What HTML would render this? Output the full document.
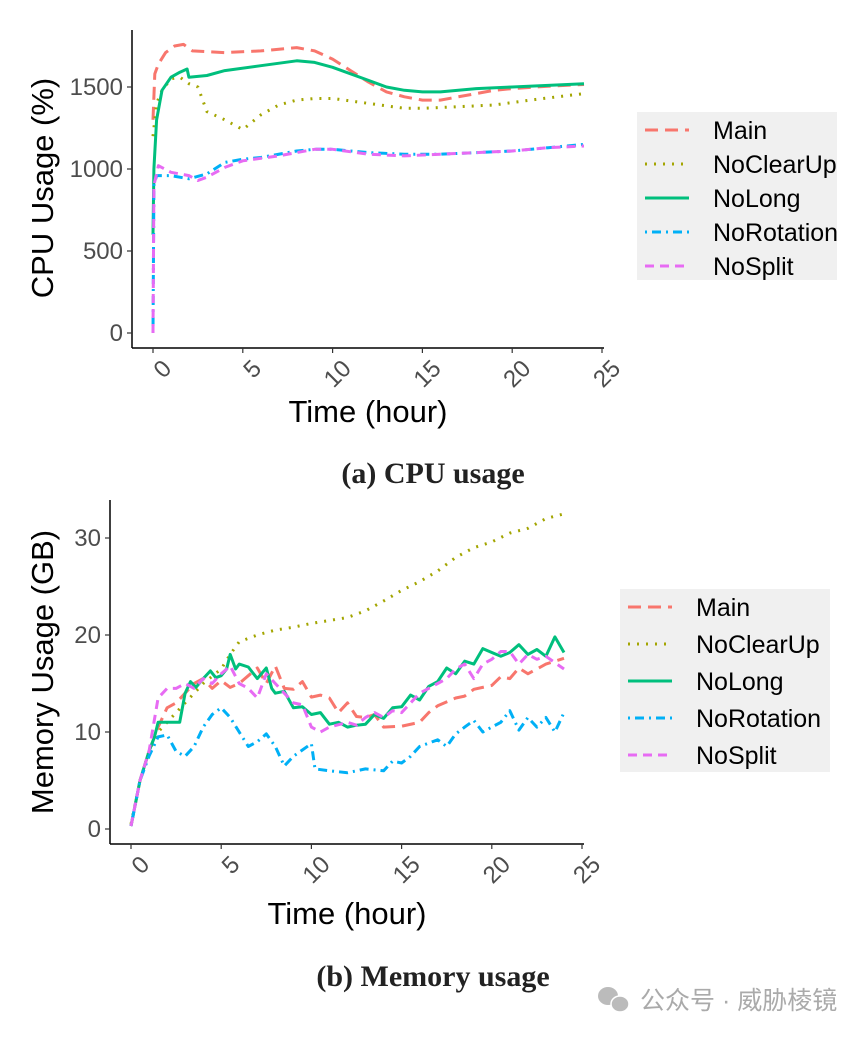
<!DOCTYPE html>
<html><head><meta charset="utf-8"><style>
body{margin:0;background:#fff;width:865px;height:1034px;overflow:hidden;font-family:"Liberation Sans",sans-serif}
svg text{font-family:"Liberation Sans","Noto Sans CJK SC",sans-serif}
</style></head><body>
<svg id="s" width="865" height="1034" xmlns="http://www.w3.org/2000/svg">
<text x="433" y="483" text-anchor="middle" font-weight="bold" font-size="30" fill="#222" style="font-family:'Liberation Serif',serif">(a) CPU usage</text>
<text x="433" y="986" text-anchor="middle" font-weight="bold" font-size="30" fill="#222" style="font-family:'Liberation Serif',serif">(b) Memory usage</text>
<g>
<ellipse cx="608" cy="996" rx="10" ry="9" fill="#bbb"/><ellipse cx="620" cy="1004" rx="9" ry="8" fill="#bbb" stroke="#fff" stroke-width="1.5"/>
<text x="640" y="1009" font-size="25" fill="#aaa">公众号 · 威胁棱镜</text></g>
</svg>
<script>
const seriesNames=["Main","NoClearUp","NoLong","NoRotation","NoSplit"];
const colors=["#F8766D","#A3A500","#00BF7D","#00B0F6","#E76BF3"];
const dashes=["13,7","2,7","","2,5,9,5","9,6"];
const xTicks=[0,5,10,15,20,25];
const cpuTicks=[0,500,1000,1500];
const memTicks=[0,10,20,30];
const cpuMain=[[0,1300],[0.1,1580],[0.3,1640],[0.7,1710],[1.2,1750],[1.7,1760],[2.2,1720],[4,1710],[6,1720],[8,1740],[9,1720],[10,1670],[11,1600],[12,1530],[13,1470],[14,1440],[15,1420],[16,1420],[17,1440],[18,1460],[19,1480],[20,1490],[22,1505],[24,1515]];
const cpuNoClearUp=[[0,1200],[0.2,1400],[0.5,1480],[1,1550],[1.5,1560],[2,1520],[2.5,1500],[3,1350],[4,1300],[5,1240],[6,1330],[7,1390],[8,1420],[9,1430],[10,1430],[12,1400],[14,1370],[15,1370],[17,1380],[19,1390],[21,1420],[24,1460]];
const cpuNoLong=[[0,600],[0.05,1000],[0.2,1300],[0.5,1480],[1,1560],[1.5,1590],[1.9,1610],[2,1560],[3,1570],[4,1600],[6,1630],[8,1660],[9,1650],[10,1620],[12,1540],[13,1500],[14,1480],[15,1470],[16,1470],[18,1490],[20,1500],[22,1510],[24,1520]];
const cpuNoRotation=[[0,0],[0.05,900],[0.2,960],[1,960],[2,940],[3,970],[4,1040],[5,1060],[6,1070],[8,1110],[9,1120],[10,1120],[12,1100],[14,1090],[16,1090],[18,1100],[20,1110],[22,1130],[24,1150]];
const cpuNoSplit=[[0,0],[0.05,900],[0.3,1020],[1,980],[2,960],[2.5,930],[3,950],[4,1010],[5,1050],[7,1080],[9,1120],[10,1120],[12,1090],[14,1080],[16,1090],[18,1100],[20,1110],[22,1130],[24,1140]];
const memMain=[[0,0.3],[0.5,5],[1,8],[1.5,10.5],[2,12.5],[2.5,13],[3,14],[3.5,15],[4,15.5],[4.5,14.5],[5,15.3],[5.5,14.6],[6,15],[6.5,15.8],[7,16.6],[7.5,15],[8,16.8],[8.5,14.5],[9,14.4],[9.5,15.2],[10,13.6],[10.5,13.8],[11,13.5],[11.5,12],[12,13],[12.5,11.6],[13,11.5],[13.5,11.8],[14,10.5],[15,10.6],[16,11],[16.5,12],[17,12.7],[18,13.5],[18.5,13.7],[19,14.4],[20,14.8],[20.5,15.7],[21,15.5],[21.5,16.6],[22,16],[23,17],[24,17.6]];
const memNoClearUp=[[0,0.5],[0.5,5],[1,8],[1.5,10],[2,11],[3,13],[4,15],[5,16.5],[5.5,18],[6,19.3],[7,20],[8,20.5],[9,20.8],[10,21.2],[11,21.5],[12,21.8],[13,22.5],[14,23.5],[15,24.6],[16,25.5],[17,26.6],[18,28],[19,29],[20,29.6],[21,30.5],[22,31],[23,32],[24,32.5]];
const memNoLong=[[0,0.3],[0.5,5],[1,8],[1.3,9.5],[1.5,11],[2.7,11],[3,14],[3.3,15.2],[3.6,14.6],[4,15.5],[4.4,16.3],[4.7,15.6],[5,15.8],[5.3,16.5],[5.5,18],[5.8,16.5],[6,17],[6.5,16.7],[7,15.5],[7.5,16.6],[7.8,14.5],[8,14],[8.5,14.2],[9,12.5],[9.5,12.6],[10,11.8],[10.5,12],[11,10.8],[11.5,11],[12,10.5],[12.5,10.7],[13,10.8],[13.5,11.8],[14,11.4],[14.5,12.5],[15,12.6],[15.5,13.8],[16,13.3],[16.5,14.7],[17,15.2],[17.5,16.6],[18,16],[18.5,17.3],[19,17],[19.5,18.6],[20,18.2],[20.5,17.8],[21,18.2],[21.5,19],[22,18],[22.5,18.5],[23,17.8],[23.5,19.8],[24,18.2]];
const memNoRotation=[[0,0.3],[0.5,5],[1,7.5],[1.5,9.5],[2,9.7],[2.5,8],[3,7.5],[3.5,8.5],[4,10.5],[4.5,11.8],[5,12.5],[5.5,11.5],[6,10],[6.5,8.5],[7,9],[7.5,9.8],[8,8.5],[8.5,6.5],[9,7.5],[10,8.8],[10.2,6.2],[11,6],[12,5.8],[13,6.2],[14,6],[14.5,7],[15,6.8],[15.5,7.5],[16,8.5],[17,9.2],[17.5,8.5],[18,9.8],[18.5,10.5],[19,11.2],[19.5,10],[20,10.5],[20.5,11],[21,12.2],[21.5,10.2],[22,11.5],[22.5,10.5],[23,11.5],[23.5,10],[24,12]];
const memNoSplit=[[0,0.3],[0.5,5],[1,8],[1.5,13.5],[2,14.5],[2.5,14.5],[3,15],[3.5,14.5],[4,15.5],[4.5,15],[5,16],[5.5,16.8],[6,15],[6.5,14.5],[7,13.5],[7.5,16],[8,15],[8.5,14],[9,13],[9.5,12.8],[10,10.5],[10.5,10],[11,10.5],[12,11],[12.5,10.7],[13,11.5],[13.5,12],[14,11.5],[14.5,12.2],[15,12],[16,14],[16.5,14.5],[17,15],[17.5,15.5],[18,16.5],[18.5,17],[19,15.5],[19.5,17],[20,17.5],[20.5,18.3],[21,18.3],[21.5,17],[22,18],[22.5,17.5],[23,17.8],[24,16.5]];

const NS="http://www.w3.org/2000/svg";
const svg=document.getElementById('s');
function mk(tag,attrs,parent){const e=document.createElementNS(NS,tag);for(const k in attrs)e.setAttribute(k,attrs[k]);(parent||svg).appendChild(e);return e;}

function chart(cfg){
  const g=mk('g',{});
  
  
  const xs=v=>cfg.x0+v*(cfg.x25-cfg.x0)/25;
  const ys=v=>cfg.y0+v*(cfg.yTop-cfg.y0)/cfg.yTopVal;
  cfg.data.forEach((d,i)=>{
    const p=mk('path',{d:d.map((pt,j)=>(j?'L':'M')+xs(pt[0]).toFixed(1)+','+ys(pt[1]).toFixed(1)).join(''),fill:'none',stroke:colors[i],'stroke-width':3,'stroke-dasharray':dashes[i],'stroke-linejoin':'round'},g);
    
    
  });
  const ya=mk('line',{x1:cfg.ax,y1:cfg.axTop,x2:cfg.ax,y2:cfg.ay,stroke:'#000','stroke-width':1.5},g);
  
  
  const xa=mk('line',{x1:cfg.ax,y1:cfg.ay,x2:xs(25)+2,y2:cfg.ay,stroke:'#000','stroke-width':1.5},g);
  
  
  cfg.yticks.forEach(v=>{
    mk('line',{x1:cfg.ax-5,x2:cfg.ax,y1:ys(v),y2:ys(v),stroke:'#333','stroke-width':1.2},g);
    const t=mk('text',{x:cfg.ax-9,y:ys(v)+8,'text-anchor':'end','font-size':24,fill:'#4d4d4d'},g);
    t.textContent=v;
    
    
  });
  xTicks.forEach(v=>{
    mk('line',{x1:xs(v),x2:xs(v),y1:cfg.ay,y2:cfg.ay+5,stroke:'#333','stroke-width':1.2},g);
    const ax=xs(v)+8, ay=cfg.ay+10;
    const t=mk('text',{x:ax,y:ay,'text-anchor':'end','font-size':24,fill:'#4d4d4d',transform:`rotate(-45 ${ax} ${ay})`,'dominant-baseline':'hanging'},g);
    t.textContent=v;
    
    
  });
  const yt=mk('text',{x:0,y:0,'text-anchor':'middle','font-size':31,fill:'#000',transform:`translate(${cfg.ytx},${cfg.yty}) rotate(-90)`},g);
  yt.textContent=cfg.ytitle;
  
  
  const xt=mk('text',{x:cfg.xtx,y:cfg.xty,'text-anchor':'middle','font-size':31,fill:'#000'},g);
  xt.textContent='Time (hour)';
  
  
  const lg=mk('g',{},g);
  
  
  mk('rect',{x:cfg.lx,y:cfg.ly,width:cfg.lw,height:cfg.lh,fill:'#f0f0f0'},lg);
  seriesNames.forEach((n,i)=>{
    const yy=cfg.ly+18+i*cfg.lstep;
    const e=mk('g',{},lg);
    
    
    mk('line',{x1:cfg.lx+8,x2:cfg.lx+52,y1:yy,y2:yy,stroke:colors[i],'stroke-width':3,'stroke-dasharray':dashes[i]},e);
    const t=mk('text',{x:cfg.lx+76,y:yy+9,'font-size':25,fill:'#000'},e);
    t.textContent=n;
  });
}
chart({name:'cpu-chart',data:[cpuMain,cpuNoClearUp,cpuNoLong,cpuNoRotation,cpuNoSplit],x0:153,x25:602,y0:333,yTop:87,yTopVal:1500,ax:132,ay:348,axTop:30,yticks:cpuTicks,ytitle:'CPU Usage (%)',ytx:53,yty:188,xtx:368,xty:422,lx:637,ly:112,lw:200,lh:168,lstep:34});
chart({name:'memory-chart',data:[memMain,memNoClearUp,memNoLong,memNoRotation,memNoSplit],x0:131,x25:582,y0:829,yTop:538,yTopVal:30,ax:110,ay:844,axTop:500,yticks:memTicks,ytitle:'Memory Usage (GB)',ytx:53,yty:672,xtx:347,xty:924,lx:620,ly:589,lw:210,lh:183,lstep:37});
</script>
</body></html>
